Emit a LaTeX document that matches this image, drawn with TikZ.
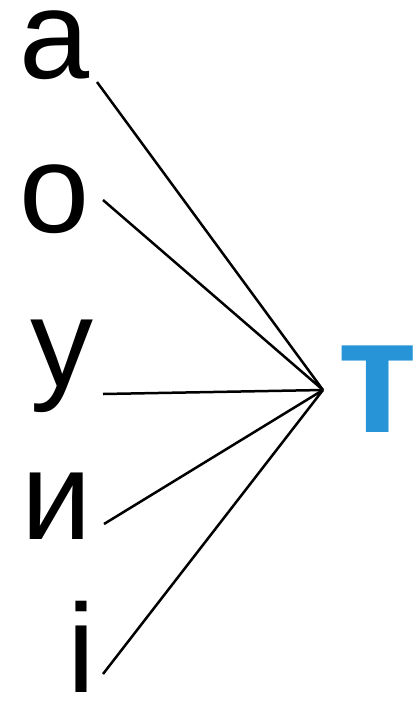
\documentclass[tikz,border=0pt]{standalone}
\usepackage{fontspec}
\setmainfont{Liberation Sans}
\definecolor{tblue}{RGB}{38,148,214}
\begin{document}
\begin{tikzpicture}[x=1pt,y=1pt,
  letter/.style={inner sep=0pt, anchor=base, text height=0.55em, text depth=0pt, font=\fontsize{126}{126}\selectfont},
  bigt/.style={inner sep=0pt, anchor=base, text=tblue, font=\fontsize{164}{164}\selectfont\bfseries},
  link/.style={line width=2.5pt, black}]
\useasboundingbox (0,0) rectangle (418,-702);
\fill[white] (0,0) rectangle (418,-702);
\node[letter] (la) at (55,-78) {а};
\node[letter] (lo) at (55,-232) {о};
\node[letter] (lu) at (62,-386) {у};
\node[letter] (li) at (57,-539) {и};
\node[letter, text height=0.72em] (lii) at (81,-692) {і};
\node[bigt] (lt) at (378,-432) {т};
\coordinate (apex) at (323,-390);
\coordinate (sa) at (97,-82);
\coordinate (so) at (103,-200);
\coordinate (su) at (103,-394);
\coordinate (si) at (104,-524);
\coordinate (sii) at (103,-674);
\draw[link] (sa) -- (apex);
\draw[link] (so) -- (apex);
\draw[link] (su) -- (apex);
\draw[link] (si) -- (apex);
\draw[link] (sii) -- (apex);
\end{tikzpicture}
\end{document}
